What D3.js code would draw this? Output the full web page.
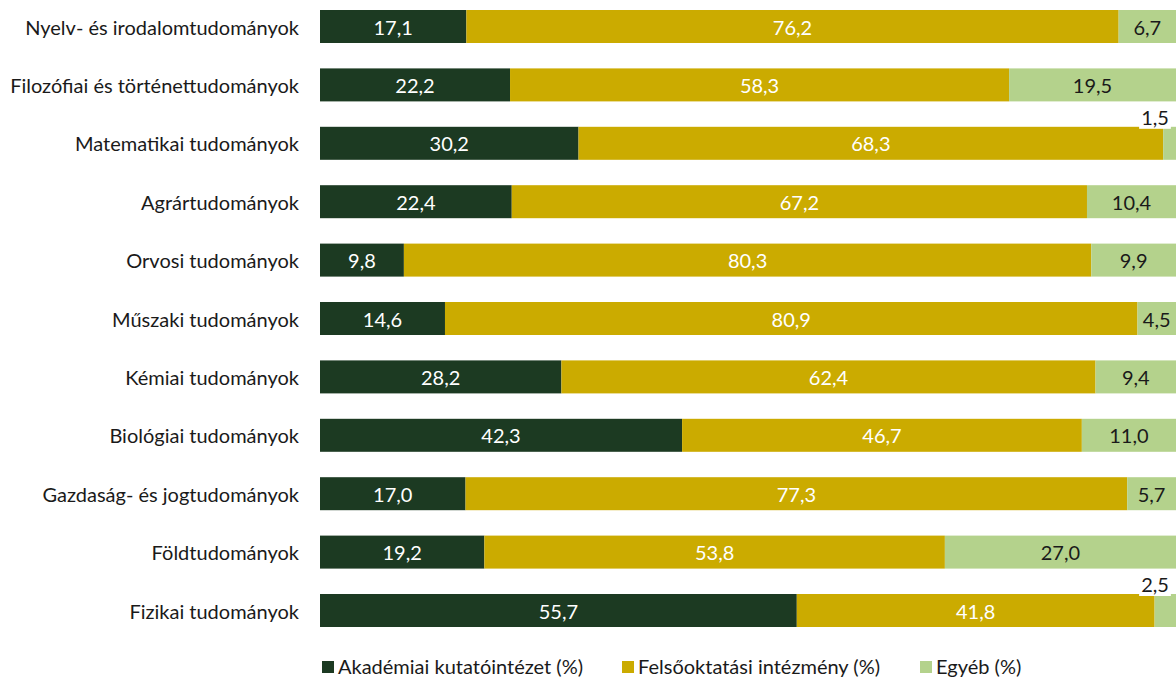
<!DOCTYPE html>
<html><head><meta charset="utf-8">
<script src="https://cdn.jsdelivr.net/npm/d3@7"></script>
<style>body{margin:0;background:#fff}svg{display:block}text{font-family:Lato,"Open Sans",sans-serif}</style>
</head><body><svg id="c" width="1176" height="678"></svg>
<script>
const categories = ["Nyelv- és irodalomtudományok","Filozófiai és történettudományok","Matematikai tudományok","Agrártudományok","Orvosi tudományok","Műszaki tudományok","Kémiai tudományok","Biológiai tudományok","Gazdaság- és jogtudományok","Földtudományok","Fizikai tudományok"];
const akademiai = [17.1,22.2,30.2,22.4,9.8,14.6,28.2,42.3,17.0,19.2,55.7];
const felsooktatasi = [76.2,58.3,68.3,67.2,80.3,80.9,62.4,46.7,77.3,53.8,41.8];
const egyeb = [6.7,19.5,1.5,10.4,9.9,4.5,9.4,11.0,5.7,27.0,2.5];
const seriesNames = ["Akadémiai kutatóintézet (%)","Felsőoktatási intézmény (%)","Egyéb (%)"];
const colors = ["#1c3a22","#cbab00","#b4d28c"];
const labelColors = ["#ffffff","#ffffff","#1a1a1a"];
const FS = 20;

const svg = d3.select("#c");
const x = d3.scaleLinear().domain([0,100]).range([320,1176]);
const y = d3.scaleBand().domain(categories).range([-2.7,639.7]).paddingInner(0.435).paddingOuter(0.2175);
const seriesVals = [akademiai, felsooktatasi, egyeb];
const fmt = v => v.toFixed(1).replace(".", ",");

categories.forEach((c,i)=>{
  let cum = 0;
  seriesVals.forEach((arr,s)=>{
    const v = arr[i];
    const x0 = x(cum), x1 = x(cum+v);
    svg.append("rect").attr("x",x0).attr("y",y(c)).attr("width",x1-x0).attr("height",y.bandwidth()).attr("fill",colors[s]);
    const cx = (x0+x1)/2;
    if (v < 3) {
      const tx = Math.min(cx, 1155);
      const ty = y(c) - 10;
      const t = svg.append("text").attr("x",tx).attr("y",ty).attr("text-anchor","middle").attr("dominant-baseline","central")
        .attr("font-size",FS).attr("fill","#1a1a1a").text(fmt(v));
      const bb = t.node().getBBox();
      svg.insert("rect","text:last-child").attr("x",bb.x-2).attr("y",bb.y).attr("width",bb.width+4).attr("height",bb.height).attr("fill","#fff");
      t.raise();
    } else {
      svg.append("text").attr("x",cx).attr("y",y(c)+y.bandwidth()/2).attr("text-anchor","middle").attr("dominant-baseline","central")
        .attr("font-size",FS).attr("fill",labelColors[s]).text(fmt(v));
    }
    cum += v;
  });
  svg.append("text").attr("x",299).attr("y",y(c)+y.bandwidth()/2).attr("text-anchor","end").attr("dominant-baseline","central")
    .attr("font-size",FS).attr("fill","#1a1a1a").text(c);
});

const legX = [322, 622, 920];
seriesNames.forEach((n,s)=>{
  svg.append("rect").attr("x",legX[s]).attr("y",661).attr("width",12).attr("height",12).attr("fill",colors[s]);
  svg.append("text").attr("x",legX[s]+16).attr("y",666).attr("dominant-baseline","central").attr("font-size",FS).attr("fill","#1a1a1a").text(n);
});
</script></body></html>
